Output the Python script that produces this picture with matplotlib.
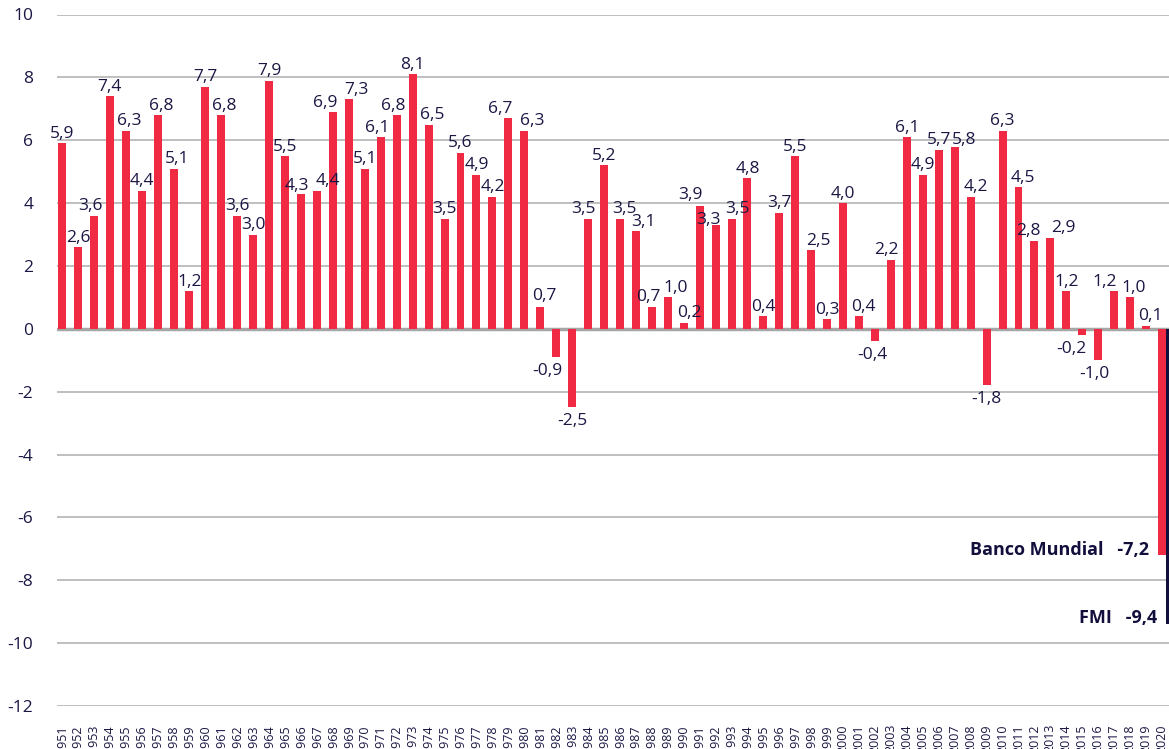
import matplotlib
matplotlib.use("Agg")
import matplotlib.pyplot as plt
import numpy as np

# ---------------- DATA ----------------
years = list(range(1951, 2021))
growth = [5.9, 2.6, 3.6, 7.4, 6.3, 4.4, 6.8, 5.1, 1.2, 7.7,
          6.8, 3.6, 3.0, 7.9, 5.5, 4.3, 4.4, 6.9, 7.3, 5.1,
          6.1, 6.8, 8.1, 6.5, 3.5, 5.6, 4.9, 4.2, 6.7, 6.3,
          0.7, -0.9, -2.5, 3.5, 5.2, 3.5, 3.1, 0.7, 1.0, 0.2,
          3.9, 3.3, 3.5, 4.8, 0.4, 3.7, 5.5, 2.5, 0.3, 4.0,
          0.4, -0.4, 2.2, 6.1, 4.9, 5.7, 5.8, 4.2, -1.8, 6.3,
          4.5, 2.8, 2.9, 1.2, -0.2, -1.0, 1.2, 1.0, 0.1, -7.2]
fmi_2020 = -9.4
bm_label = "Banco Mundial"
fmi_label = "FMI"
yticks = list(range(-12, 11, 2))
# --------------------------------------

# label nudges in pixels (dx, dy) so crowded labels sit like the original
nudge = {1953: (-3, 0), 1955: (4, 0), 1957: (4, 0), 1958: (4, 0), 1961: (3, 0),
         1966: (-4, -2), 1967: (11, 0), 1968: (-8, 0), 1969: (8, 0), 1971: (-4, 0),
         1972: (-3, 0), 1974: (4, 0), 1979: (-8, 0), 1980: (8, 0), 1981: (4, 1),
         1982: (-9, 0), 1984: (-5, 0), 1986: (5, 0), 1987: (8, 0), 1988: (-4, 0),
         1989: (8, 0), 1990: (6, 0), 1991: (-9, 2), 1992: (-7, -4), 1993: (6, 0),
         1998: (7, 0), 2001: (4, 0), 2002: (-3, 0), 2003: (-5, 0), 2007: (9, -3),
         2008: (5, 0), 2011: (4, 0), 2012: (-6, 0), 2013: (13, 0), 2015: (-11, 0),
         2016: (-4, 0), 2017: (-9, 0), 2018: (4, 0), 2019: (4, 0)}

red = "#f12a43"
navy = "#120f3d"
txt = "#1a1744"
px = 72 / 100  # points per pixel

plt.rcParams["font.family"] = ["Open Sans", "DejaVu Sans"]
plt.rcParams["axes.unicode_minus"] = False

fig = plt.figure(figsize=(11.69, 7.49), dpi=100)
ax = fig.add_axes([57 / 1169, 43 / 749, 1112 / 1169, 691.5 / 749])

ax.bar(years, growth, width=0.5, color=red, zorder=3)
# FMI forecast bar next to the 2020 bar
ax.bar(years[-1] + 0.27, fmi_2020, width=0.3, align="edge", color=navy, zorder=3)

ax.set_xlim(1950.69, 2020.44)
ax.set_ylim(-12, 10)

ax.set_yticks(yticks)
ax.set_yticklabels([str(t) for t in yticks])
ax.yaxis.grid(True, color="#b4b4b4", linewidth=1.2, zorder=0)
ax.axhline(0, color="#a6a6a6", linewidth=2.5, zorder=2)
ax.set_axisbelow(True)

ax.set_xticks(years)
ax.set_xticklabels([str(y) for y in years], rotation=90, fontsize=9, color=txt)
ax.tick_params(axis="x", length=0, pad=13)
ax.tick_params(axis="y", length=0, pad=17, labelsize=12.5, labelcolor=txt)

for s in ax.spines.values():
    s.set_visible(False)

# value labels (2020 gets the bold annotations instead)
for x, v in zip(years[:-1], growth[:-1]):
    lab = f"{v:.1f}".replace(".", ",")
    dx, dy = nudge.get(x, (0, 0))
    if v >= 0:
        ax.annotate(lab, (x, v), textcoords="offset points",
                    xytext=(dx * px, 1 + dy * px),
                    ha="center", va="bottom", fontsize=12.5, color=txt, zorder=4)
    else:
        ax.annotate(lab, (x, v), textcoords="offset points",
                    xytext=(dx * px, -4 + dy * px),
                    ha="center", va="top", fontsize=12.5, color=txt, zorder=4)

bm_val = f"{growth[-1]:.1f}".replace(".", ",")
fmi_val = f"{fmi_2020:.1f}".replace(".", ",")
ax.text(2019.2, growth[-1] + 0.15, f"{bm_label}   {bm_val}", ha="right", va="center",
        fontsize=13, fontweight="bold", color=navy, zorder=4)
ax.text(2019.7, fmi_2020 + 0.2, f"{fmi_label}   {fmi_val}", ha="right", va="center",
        fontsize=13, fontweight="bold", color=navy, zorder=4)

fig.savefig("out.png", dpi=100)
